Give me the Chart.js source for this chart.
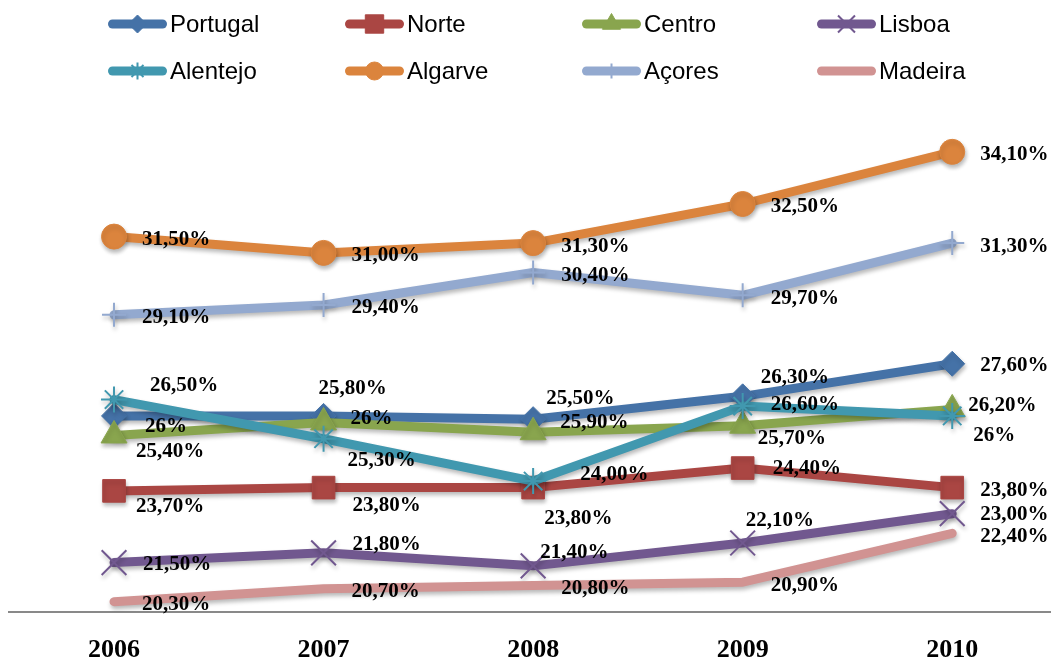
<!DOCTYPE html>
<html>
<head>
<meta charset="utf-8">
<script src="https://cdn.jsdelivr.net/npm/chart.js@4.4.1/dist/chart.umd.min.js"></script>
<style>
  html, body { margin:0; padding:0; background:#fff; overflow:hidden; }
  #wrap { width:1058px; height:662px; }
</style>
</head>
<body>
<div id="wrap"><canvas id="c" width="1058" height="662"></canvas></div>
<script>
// data
var years    = ['2006','2007','2008','2009','2010'];
var portugal = [26.0, 26.0, 25.9, 26.6, 27.6];
var norte    = [23.7, 23.8, 23.8, 24.4, 23.8];
var centro   = [25.4, 25.8, 25.5, 25.7, 26.2];
var lisboa   = [21.5, 21.8, 21.4, 22.1, 23.0];
var alentejo = [26.5, 25.3, 24.0, 26.3, 26.0];
var algarve  = [31.5, 31.0, 31.3, 32.5, 34.1];
var acores   = [29.1, 29.4, 30.4, 29.7, 31.3];
var madeira  = [20.3, 20.7, 20.8, 20.9, 22.4];
// points whose label is shown without decimals ("26%")
var wholeLabels = { 'Portugal':[0,1], 'Alentejo':[4] };

// label placement (dx from point to label start, dy to label middle)
var labelDefault = [28, 3];
var labelNudge = {
  'Portugal': [[31,11],[27,3],[27,3],[28,8],[28,2]],
  'Centro':   [[22,16],[-5,-34],[13,-34],[15,13],[16,-4]],
  'Alentejo': [[36,-14],[24,22],[47,-7],[18,-29],[21,20]],
  'Norte':    [[22,16],[29,18],[11,31],[30,1],[28,3]],
  'Lisboa':   [[29,2],[29,-8],[7,-13],[3,-22],[28,1]]
};

function fmt(name, i, v){
  var w = wholeLabels[name];
  if(w && w.indexOf(i) >= 0) return Math.round(v) + '%';
  return v.toFixed(2).replace('.', ',') + '%';
}

function ds(label, data, color, style, radius, bw, legendRadius){
  return {
    label:label, data:data, borderColor:color, backgroundColor:color,
    borderWidth:9, borderCapStyle:'round', borderJoinStyle:'round', tension:0,
    pointStyle:style, pointRadius:radius, pointHoverRadius:radius,
    pointBackgroundColor:color, pointBorderColor:color, pointBorderWidth:bw,
    legendRadius:legendRadius
  };
}

var series = [
  ds('Portugal', portugal, '#4572A7', 'rectRot', 12.5, 1, 9),
  ds('Norte',    norte,    '#AA4643', 'rect', 16, 1, 13),
  ds('Centro',   centro,   '#89A54E', 'triangle', 15, 1, 10.5),
  ds('Lisboa',   lisboa,   '#71588F', 'crossRot', 17.5, 2, 12),
  ds('Alentejo', alentejo, '#4198AF', 'star', 13, 2, 8.5),
  ds('Algarve',  algarve,  '#DB843D', 'circle', 12.5, 1, 9),
  ds('Açores',   acores,   '#93A9CF', 'cross', 12, 2, 7.5),
  ds('Madeira',  madeira,  '#D19392', 'circle', 0, 0, 0)
];
// later series sit on top, as in the original
series.forEach(function(s, i){ s.order = series.length - i; });

var shadowPlugin = {
  id:'shadow',
  beforeDatasetDraw:function(chart){
    var ctx = chart.ctx; ctx.save();
    ctx.shadowColor = 'rgba(0,0,0,0.28)'; ctx.shadowBlur = 4;
    ctx.shadowOffsetX = 1; ctx.shadowOffsetY = 3;
  },
  afterDatasetDraw:function(chart){ chart.ctx.restore(); }
};

var labelPlugin = {
  id:'valueLabels',
  afterDatasetsDraw:function(chart){
    var ctx = chart.ctx; ctx.save();
    ctx.font = 'bold 21px "Liberation Serif", serif';
    ctx.fillStyle = '#000'; ctx.textAlign = 'left'; ctx.textBaseline = 'middle';
    chart.data.datasets.forEach(function(d, di){
      var meta = chart.getDatasetMeta(di);
      meta.data.forEach(function(pt, i){
        var n = labelNudge[d.label] ? labelNudge[d.label][i] : labelDefault;
        ctx.fillText(fmt(d.label, i, d.data[i]), pt.x + n[0], pt.y + n[1]);
      });
    });
    ctx.restore();
  }
};

var legendCols = [108, 345, 582, 817];
var legendRows = [24, 71];
var legendPlugin = {
  id:'lineLegend',
  afterDraw:function(chart){
    var ctx = chart.ctx; ctx.save();
    chart.data.datasets.forEach(function(d, i){
      var x0 = legendCols[i % 4], y = legendRows[Math.floor(i / 4)];
      ctx.strokeStyle = d.borderColor; ctx.lineWidth = 9; ctx.lineCap = 'round';
      ctx.beginPath(); ctx.moveTo(x0 + 4.5, y); ctx.lineTo(x0 + 54.5, y); ctx.stroke();
      if(d.legendRadius > 0){
        ctx.fillStyle = d.borderColor; ctx.strokeStyle = d.borderColor;
        ctx.lineWidth = d.pointBorderWidth; ctx.lineCap = 'butt';
        Chart.helpers.drawPoint(ctx, {pointStyle:d.pointStyle, radius:d.legendRadius, rotation:0, borderWidth:d.pointBorderWidth}, x0 + 29.5, y);
      }
      ctx.fillStyle = '#000'; ctx.font = '24px "Liberation Sans", sans-serif';
      ctx.textAlign = 'left'; ctx.textBaseline = 'middle';
      ctx.fillText(d.label, x0 + 62, y + 1);
    });
    ctx.restore();
  }
};

new Chart(document.getElementById('c'), {
  type:'line',
  data:{ labels:years, datasets:series },
  options:{
    responsive:false, animation:false,
    layout:{ autoPadding:false, padding:{ left:9.25, right:1, top:122.5, bottom:0 } },
    plugins:{ legend:{ display:false }, tooltip:{ enabled:false } },
    scales:{
      x:{
        offset:true,
        grid:{ display:false, drawTicks:true, tickLength:23 },
        border:{ display:true, color:'#898989', width:2 },
        ticks:{ color:'#000', padding:0, font:{ family:'"Liberation Serif", serif', size:26, weight:'bold' } },
        afterFit:function(s){ s.height = 50.5; s.paddingLeft = 0; s.paddingRight = 0; }
      },
      y:{ display:false, min:20, max:35 }
    }
  },
  plugins:[shadowPlugin, labelPlugin, legendPlugin]
});
</script>
</body>
</html>
